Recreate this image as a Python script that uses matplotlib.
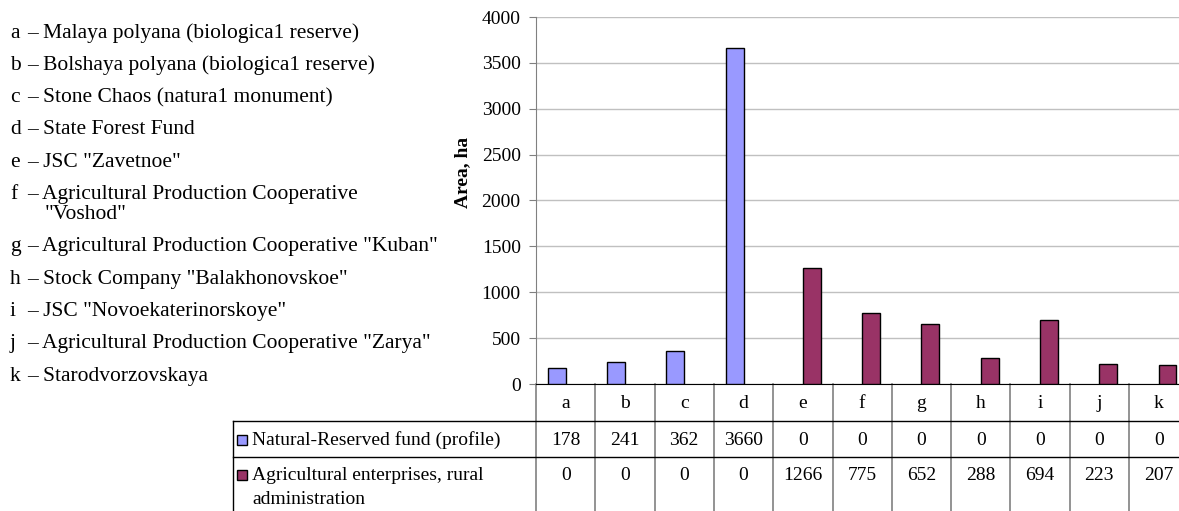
import numpy as np
import matplotlib.pyplot as plt
from matplotlib.transforms import blended_transform_factory
from matplotlib.patches import Rectangle

plt.rcParams['font.family'] = ['Liberation Serif', 'DejaVu Serif']

# data
categories = ['a', 'b', 'c', 'd', 'e', 'f', 'g', 'h', 'i', 'j', 'k']
reserved = [178, 241, 362, 3660, 0, 0, 0, 0, 0, 0, 0]
agri = [0, 0, 0, 0, 1266, 775, 652, 288, 694, 223, 207]
series_names = ['Natural-Reserved fund (profile)',
                'Agricultural enterprises, rural\nadministration']
series_colors = ['#9999ff', '#993366']
descriptions = [
    'Malaya polyana (biologica1 reserve)',
    'Bolshaya polyana (biologica1 reserve)',
    'Stone Chaos (natura1 monument)',
    'State Forest Fund',
    'JSC "Zavetnoe"',
    'Agricultural Production Cooperative\n"Voshod"',
    'Agricultural Production Cooperative "Kuban"',
    'Stock Company "Balakhonovskoe"',
    'JSC "Novoekaterinorskoye"',
    'Agricultural Production Cooperative "Zarya"',
    'Starodvorzovskaya',
]

W, H = 1179, 511
fig = plt.figure(figsize=(W / 100, H / 100), dpi=100)
# axes right edge runs past the figure, the table gets cut like the original
ax = fig.add_axes([536 / W, (H - 384) / H, (59.3 * 11) / W, (384 - 17) / H])

x = np.arange(len(categories))
bw = 0.30
for vals, off, col in [(reserved, -bw / 2, series_colors[0]), (agri, bw / 2, series_colors[1])]:
    v = np.array(vals)
    m = v > 0  # zero bars would show as a flat black edge
    ax.bar(x[m] + off, v[m], bw, color=col, edgecolor='black', linewidth=1, zorder=3)

ax.set_xlim(-0.5, len(categories) - 0.5)
ax.set_ylim(0, 4000)
ax.set_yticks(np.arange(0, 4001, 500))
ax.yaxis.grid(True, color='#c0c0c0', linewidth=1)
ax.set_axisbelow(True)
ax.set_xticks([])
for s in ['top', 'right']:
    ax.spines[s].set_visible(False)
ax.spines['left'].set_color('#808080')
ax.spines['bottom'].set_color('black')
ax.tick_params(axis='y', direction='out', length=5, color='#808080', labelsize=14, pad=6)

fig.text(463 / W, 1 - 172 / H, 'Area, ha', rotation=90, fontweight='bold',
         fontsize=14, ha='center', va='center')

# data table under the plot
tr = blended_transform_factory(ax.transData, ax.transAxes)
trf = blended_transform_factory(fig.transFigure, ax.transAxes)
px = lambda y: (384 - y) / 367.0  # pixel row -> axes fraction

y_head = px(421)
y_row1 = px(457)
y_bot = px(530)
left = 233 / W

for i in range(len(categories) + 1):
    ax.plot([i - 0.5, i - 0.5], [0, y_bot], transform=tr, color='#808080',
            linewidth=1.2, clip_on=False)
ax.plot([left, left], [y_head, y_bot], transform=trf, color='black', linewidth=1, clip_on=False)
for yy in [y_head, y_row1]:
    ax.plot([left, 1.0], [yy, yy], transform=trf, color='black', linewidth=1, clip_on=False)

for i, c in enumerate(categories):
    ax.text(i, px(403), c, transform=tr, ha='center', va='center', fontsize=14)
    ax.text(i, px(440), str(reserved[i]), transform=tr, ha='center', va='center', fontsize=14)
    ax.text(i, px(475), str(agri[i]), transform=tr, ha='center', va='center', fontsize=14)

for name, col, yc in zip(series_names, series_colors, [440, 475]):
    fig.patches.append(Rectangle((237 / W, 1 - (yc + 5) / H), 10 / W, 10 / H,
                                 transform=fig.transFigure, facecolor=col,
                                 edgecolor='black', linewidth=1))
    for j, line in enumerate(name.split('\n')):
        fig.text(252 / W, 1 - (yc + 24 * j) / H, line, fontsize=14, ha='left', va='center')

# description list on the left
yc = 33
for c, d in zip(categories, descriptions):
    lines = d.split('\n')
    fig.text(10 / W, 1 - yc / H, c, fontsize=15.5, ha='left', va='center')
    fig.text(27 / W, 1 - yc / H, '– ' + lines[0], fontsize=15.5, ha='left', va='center')
    if len(lines) > 1:
        yc += 20
        fig.text(45 / W, 1 - yc / H, lines[1], fontsize=15.5, ha='left', va='center')
    yc += 32.3

fig.savefig('out.png', dpi=100)
